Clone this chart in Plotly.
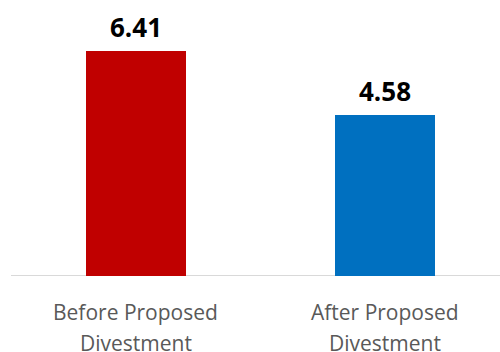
import plotly.graph_objects as go

categories = ["Before Proposed Divestment", "After Proposed Divestment"]
label_line1 = ["Before Proposed", "After Proposed"]
label_line2 = ["Divestment", "Divestment"]
values = [6.41, 4.58]
labels = ["6.41", "4.58"]
colors = ["#C00000", "#0070C0"]

xpos = list(range(len(categories)))

fig = go.Figure()
fig.add_trace(go.Bar(
    x=xpos, y=values, width=0.4016, marker=dict(color=colors, line=dict(width=0)),
    hoverinfo="skip",
))

for x, v, t in zip(xpos, values, labels):
    fig.add_annotation(x=x, y=v, text=f"<b>{t}</b>", showarrow=False,
                       yanchor="bottom", yshift=4,
                       font=dict(family="Open Sans", size=26, color="#000000"))

for x, l1, l2 in zip(xpos, label_line1, label_line2):
    for txt, shift in ((l1, -20), (l2, -51)):
        fig.add_annotation(x=x, y=0, xref="x", yref="paper", text=txt, showarrow=False,
                           yanchor="top", yshift=shift,
                           font=dict(family="Open Sans", size=21, color="#595959"))

fig.update_layout(
    width=500, height=352,
    margin=dict(l=11, r=0, t=0, b=76),
    paper_bgcolor="white", plot_bgcolor="white",
    showlegend=False,
    bargap=0,
    xaxis=dict(range=[-0.502, 1.462], tickmode="array", tickvals=xpos, ticktext=["", ""],
               showgrid=False, zeroline=False, showline=False, ticks="", showticklabels=False),
    yaxis=dict(range=[0, 7.86], visible=False, showgrid=False, zeroline=False),
)
fig.add_shape(type="line", xref="paper", yref="y", x0=0, x1=1, y0=0, y1=0,
              line=dict(color="#D9D9D9", width=2), layer="below")

fig.write_html("out.html")
